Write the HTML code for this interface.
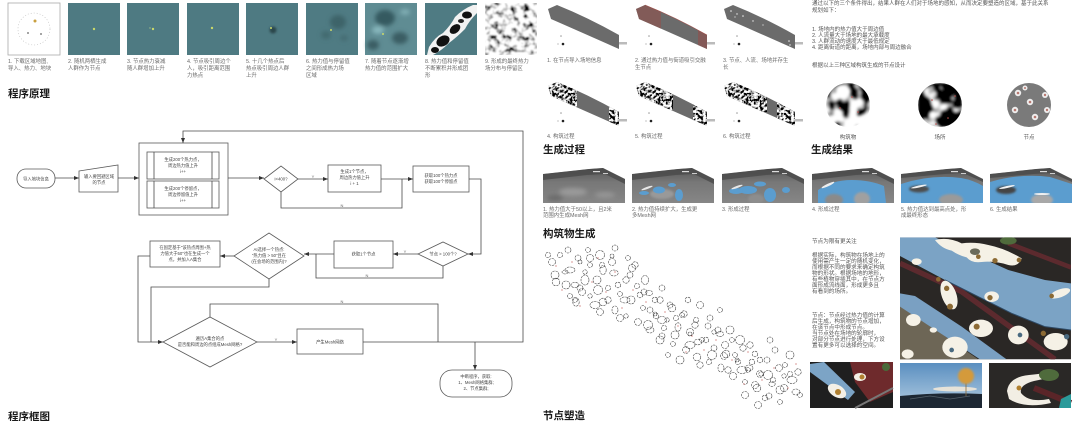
<!DOCTYPE html>
<html><head><meta charset="utf-8">
<style>
html,body{margin:0;padding:0;background:#fff;}
body{width:1080px;height:421px;overflow:hidden;}
svg{display:block;}
svg text{font-family:"Liberation Sans","Noto Sans CJK SC",sans-serif;}
.cap{font-size:5.4px;fill:#6a6a6a;}
.ft{font-size:4.3px;fill:#444;text-anchor:middle;}
.yn{font-size:4px;fill:#666;text-anchor:middle;}
.h{font-size:10.5px;font-weight:700;fill:#1a1a1a;}
.ln{stroke:#4a4a4a;stroke-width:0.8;fill:none;}
.bx{stroke:#5a5a5a;stroke-width:0.8;fill:#fff;}
.rt{font-size:5.5px;fill:#555;}
</style></head><body>
<svg width="1080" height="421" viewBox="0 0 1080 421" xmlns="http://www.w3.org/2000/svg">
<defs>
  <marker id="ar" markerUnits="userSpaceOnUse" markerWidth="5" markerHeight="4" refX="5" refY="2" orient="auto"><path d="M0,0L5,2L0,4z" fill="#333"/></marker>
  <filter id="b1" x="-50%" y="-50%" width="200%" height="200%"><feGaussianBlur stdDeviation="1"/></filter>
  <filter id="b2" x="-50%" y="-50%" width="200%" height="200%"><feGaussianBlur stdDeviation="2"/></filter>
  <filter id="nz9" x="0" y="0" width="1" height="1">
    <feTurbulence type="fractalNoise" baseFrequency="0.17" numOctaves="2" seed="7"/>
    <feColorMatrix type="matrix" values="3.4 0 0 0 -0.9  3.4 0 0 0 -0.9  3.4 0 0 0 -0.9  0 0 0 0 1"/>
    <feGaussianBlur stdDeviation="0.5"/>
  </filter>
  <filter id="nzr" x="0" y="0" width="1" height="1">
    <feTurbulence type="fractalNoise" baseFrequency="0.35" numOctaves="2" seed="11"/>
    <feColorMatrix type="matrix" values="5 0 0 0 -2.1  5 0 0 0 -2.1  5 0 0 0 -2.1  0 0 0 0 1"/>
  </filter>
  <filter id="nzc1" x="0" y="0" width="1" height="1">
    <feTurbulence type="fractalNoise" baseFrequency="0.07" numOctaves="2" seed="3"/>
    <feColorMatrix type="matrix" values="7 0 0 0 -3.0  7 0 0 0 -3.0  7 0 0 0 -3.0  0 0 0 0 1"/>
    <feGaussianBlur stdDeviation="1"/>
  </filter>
  <filter id="nzc2" x="0" y="0" width="1" height="1">
    <feTurbulence type="fractalNoise" baseFrequency="0.07" numOctaves="2" seed="21"/>
    <feColorMatrix type="matrix" values="7 0 0 0 -3.9  7 0 0 0 -3.9  7 0 0 0 -3.9  0 0 0 0 1"/>
    <feGaussianBlur stdDeviation="1"/>
  </filter>
  <clipPath id="tc"><polygon points="0,6 46,1 60,0 82,11 82,35 0,35"/></clipPath>
  <clipPath id="ribc"><path d="M1,4 L10,0 Q40,12 72,30 L72,44 Q36,28 4,14 Z"/></clipPath>
  <clipPath id="c1"><circle cx="848" cy="105" r="22"/></clipPath>
  <clipPath id="c2"><circle cx="940" cy="105" r="22"/></clipPath>
  <clipPath id="c3"><circle cx="1029" cy="105" r="22"/></clipPath>
  <clipPath id="bigc"><rect x="15" y="22" width="513" height="366"/></clipPath>
  <linearGradient id="tg" x1="0" y1="0" x2="0" y2="1"><stop offset="0" stop-color="#555"/><stop offset="0.4" stop-color="#777"/><stop offset="1" stop-color="#868686"/></linearGradient>
  <linearGradient id="sky" x1="0" y1="0" x2="0" y2="1"><stop offset="0" stop-color="#5a8fc0"/><stop offset="1" stop-color="#b3cce2"/></linearGradient>
</defs>

<!-- ============ TOP THUMBNAILS ============ -->
<rect x="8" y="3" width="52" height="52" fill="#fff" stroke="#aaa" stroke-width="0.8"/>
<circle cx="34" cy="29" r="16" fill="none" stroke="#bbb" stroke-width="0.6" stroke-dasharray="1 2"/>
<circle cx="35" cy="21" r="1.5" fill="#c9a040"/><circle cx="28" cy="33" r="1" fill="#888"/><circle cx="41" cy="34" r="1" fill="#888"/>

<rect x="68" y="3" width="52" height="52" fill="#4e7a82"/><circle cx="94" cy="29" r="1.2" fill="#c9d86a"/>
<rect x="127" y="3" width="52" height="52" fill="#4e7a82"/><circle cx="153" cy="29" r="1.2" fill="#c9d86a"/><circle cx="150" cy="28" r="0.7" fill="#9fbf8a"/>
<rect x="187" y="3" width="52" height="52" fill="#4e7a82"/><circle cx="212" cy="28" r="1.2" fill="#c9d86a"/>
<rect x="246" y="3" width="52" height="52" fill="#4e7a82"/><circle cx="273" cy="30" r="3.5" fill="#2b474c" filter="url(#b1)"/><circle cx="271" cy="28" r="1" fill="#c9d86a"/>
<rect x="306" y="3" width="52" height="52" fill="#4f7b83"/>
<g filter="url(#b2)"><ellipse cx="338" cy="22" rx="8" ry="7" fill="#3e6369"/><ellipse cx="326" cy="35" rx="5" ry="4" fill="#426a70"/><ellipse cx="344" cy="38" rx="4" ry="3" fill="#446c72"/></g>
<circle cx="331" cy="30" r="1" fill="#c9d86a"/>
<rect x="365" y="3" width="52" height="52" fill="#5f8c93"/>
<g filter="url(#b2)"><ellipse cx="385" cy="18" rx="10" ry="8" fill="#365a60"/><ellipse cx="400" cy="38" rx="8" ry="6" fill="#3b5d63"/><ellipse cx="373" cy="45" rx="6" ry="5" fill="#3b5d63"/><ellipse cx="378" cy="30" rx="6" ry="4" fill="#86b6bc"/><ellipse cx="405" cy="12" rx="5" ry="3" fill="#80aeb4"/></g>
<circle cx="383" cy="34" r="1" fill="#c9d86a"/>
<rect x="425" y="3" width="52" height="52" fill="#4f7b83"/>
<g transform="translate(425,3)">
  <path d="M4,44 Q10,34 18,30 Q26,22 30,14 Q38,6 48,2 L52,2 L52,10 Q44,18 40,26 Q32,34 24,40 Q16,48 8,52 L2,52 Z" fill="#f2f2f2"/>
  <ellipse cx="18" cy="38" rx="7" ry="5" transform="rotate(-30 18 38)" fill="#111"/>
  <ellipse cx="30" cy="26" rx="6" ry="4" transform="rotate(-40 30 26)" fill="#111"/>
  <ellipse cx="42" cy="12" rx="5" ry="3.5" fill="#111"/>
  <ellipse cx="10" cy="47" rx="4" ry="3" fill="#111"/>
  <ellipse cx="36" cy="18" rx="3" ry="2" fill="#222"/>
</g>
<rect x="485" y="3" width="52" height="52" fill="#888" filter="url(#nz9)"/>

<g class="cap">
<text x="8" y="63">1. 下载区域地图,</text><text x="8" y="70">导入、热力、地块</text>
<text x="68" y="63">2. 随机两栖生成</text><text x="68" y="70">人群作为节点</text>
<text x="127" y="63">3. 节点热力衰减</text><text x="127" y="70">随人群增加上升</text>
<text x="187" y="63">4. 节点吸引周边个</text><text x="187" y="70">人，吸引距离范围</text><text x="187" y="77">力热点</text>
<text x="246" y="63">5. 十几个热点后</text><text x="246" y="70">热点吸引周边人群</text><text x="246" y="77">上升</text>
<text x="306" y="63">6. 热力值与停留值</text><text x="306" y="70">之间形成热力场</text><text x="306" y="77">区域</text>
<text x="365" y="63">7. 随着节点逐渐增</text><text x="365" y="70">热力值的范围扩大</text>
<text x="425" y="63">8. 热力值和停留值</text><text x="425" y="70">不断累积并形成团</text><text x="425" y="77">形</text>
<text x="485" y="63">9. 形成的最终热力</text><text x="485" y="70">场分布与停留区</text>
</g>

<text class="h" x="8" y="97">程序原理</text>
<text class="h" x="8" y="420">程序框图</text>

<!-- ============ FLOWCHART ============ -->
<rect class="bx" x="17" y="169" width="38" height="19" rx="9"/>
<text class="ft" x="36" y="180.5">导入地块信息</text>
<path class="ln" d="M55,178H79" marker-end="url(#ar)"/>
<polygon class="bx" points="79,171 118,165 118,192 79,192"/>
<text class="ft" x="99" y="178">输入要回避区域</text><text class="ft" x="99" y="184">的节点</text>
<path class="ln" d="M118,178H139" marker-end="url(#ar)"/>
<rect class="bx" x="139" y="143" width="89" height="72"/>
<rect class="bx" x="147" y="152" width="72" height="27"/><path class="ln" d="M154,152V179M212,152V179"/>
<text class="ft" x="183" y="161">生成200个热力点，</text><text class="ft" x="183" y="167">周边热力值上升</text><text class="ft" x="183" y="173">i++</text>
<rect class="bx" x="147" y="181" width="72" height="27"/><path class="ln" d="M154,181V208M212,181V208"/>
<text class="ft" x="183" y="190">生成200个停留点，</text><text class="ft" x="183" y="196">周边停留值上升</text><text class="ft" x="183" y="202">i++</text>
<path class="ln" d="M228,178H264" marker-end="url(#ar)"/>
<polygon class="bx" points="264,179 281,166 298,179 281,192"/>
<text class="ft" x="281" y="180.5">i&lt;400?</text>
<path class="ln" d="M298,179H328" marker-end="url(#ar)"/><text class="yn" x="313" y="178">Y</text>
<rect class="bx" x="328" y="165" width="53" height="27"/>
<text class="ft" x="354.5" y="173">生成1个节点，</text><text class="ft" x="354.5" y="179">周边热力值上升</text><text class="ft" x="354.5" y="185">i + 1</text>
<path class="ln" d="M381,179H413" marker-end="url(#ar)"/>
<path class="ln" d="M281,192V208H402V179"/><text class="yn" x="342" y="207">N</text>
<rect class="bx" x="413" y="166" width="56" height="26"/>
<text class="ft" x="441" y="177">获取100个热力点</text><text class="ft" x="441" y="183">获取100个停留点</text>
<path class="ln" d="M469,179H481V254H468" marker-end="url(#ar)"/>
<polygon class="bx" points="418,254 443,242 468,254 443,266"/>
<text class="ft" x="443" y="255.5">节点 &gt; 100个?</text>
<path class="ln" d="M418,254H393" marker-end="url(#ar)"/><text class="yn" x="405" y="253">Y</text>
<rect class="bx" x="334" y="241" width="59" height="27"/>
<text class="ft" x="363.5" y="255.5">获取1个节点</text>
<path class="ln" d="M443,266V278H316V254"/><text class="yn" x="367" y="277">N</text>
<path class="ln" d="M334,254H304" marker-end="url(#ar)"/>
<polygon class="bx" points="234,256 269,233 304,256 269,279"/>
<text class="ft" x="269" y="251">AI选择一个热点:</text><text class="ft" x="269" y="257">"热力值 &gt; 50"且在</text><text class="ft" x="269" y="263">(在会场的范围内)?</text>
<path class="ln" d="M234,256H220" marker-end="url(#ar)"/>
<rect class="bx" x="150" y="241" width="70" height="26"/>
<text class="ft" x="185" y="249">在固定基于"该热点周围+热</text><text class="ft" x="185" y="255">力值大于50"也在生成一个</text><text class="ft" x="185" y="261">点，并加入A集合</text>
<path class="ln" d="M150,256H138V342H163" marker-end="url(#ar)"/>
<path class="ln" d="M269,279V287H151V342"/>
<polygon class="bx" points="163,342 210,317 257,342 210,367"/>
<text class="ft" x="210" y="340">遍历A集合的点</text><text class="ft" x="210" y="346">是否能和周边的点组成Mesh网格?</text>
<path class="ln" d="M257,342H297" marker-end="url(#ar)"/><text class="yn" x="276" y="341">Y</text>
<path class="ln" d="M210,317V304H438V342"/><text class="yn" x="342" y="303">N</text>
<rect class="bx" x="297" y="329" width="66" height="25"/>
<text class="ft" x="330" y="343.5">产生Mesh网络</text>
<path class="ln" d="M363,342H523V131H183V143" marker-end="url(#ar)"/>
<path class="ln" d="M475,342V370" marker-end="url(#ar)"/>
<rect class="bx" x="440" y="370" width="72" height="27" rx="12"/>
<text class="ft" x="476" y="378">中断程序，获取:</text><text class="ft" x="476" y="384">1、Mesh网格集群;</text><text class="ft" x="476" y="390">2、节点集群;</text>

<!-- ============ MIDDLE: RIBBONS ============ -->
<g transform="translate(547,5)">
  <path d="M1,4 L10,0 Q40,12 72,30 L72,44 Q36,28 4,14 Z" fill="#6b6b6b"/>
  <rect x="72" y="37" width="8" height="2.5" fill="#bbb"/>
  <circle cx="14" cy="31" r="0.8" fill="#999"/><circle cx="16" cy="39" r="1.3" fill="#222"/><circle cx="11" cy="39" r="0.6" fill="#999"/>
</g>
<g transform="translate(635,5)">
  <path d="M1,4 L10,0 Q40,12 72,30 L72,44 Q36,28 4,14 Z" fill="#6b6b6b"/>
  <g clip-path="url(#ribc)"><rect x="0" y="0" width="26" height="25" fill="#8a5552" opacity="0.75"/><rect x="63" y="24" width="10" height="21" fill="#8a5552" opacity="0.8"/></g>
  <path d="M10,0 Q40,12 72,30" fill="none" stroke="#a0504a" stroke-width="0.6"/>
  <rect x="72" y="37" width="8" height="2.5" fill="#bbb"/>
  <circle cx="14" cy="31" r="0.8" fill="#999"/><circle cx="16" cy="39" r="1.3" fill="#222"/><circle cx="11" cy="39" r="0.6" fill="#999"/>
</g>
<g transform="translate(723,5)">
  <path d="M1,4 L10,0 Q40,12 72,30 L72,44 Q36,28 4,14 Z" fill="#6b6b6b"/>
  <g fill="#eee"><circle cx="8" cy="6" r="0.8"/><circle cx="14" cy="9" r="0.7"/><circle cx="20" cy="11" r="0.8"/><circle cx="12" cy="12" r="0.6"/><circle cx="30" cy="16" r="0.7"/><circle cx="40" cy="20" r="0.6"/><circle cx="66" cy="36" r="0.8"/><circle cx="67" cy="40" r="0.7"/></g>
  <rect x="72" y="37" width="8" height="2.5" fill="#bbb"/>
  <circle cx="14" cy="31" r="0.8" fill="#999"/><circle cx="16" cy="39" r="1.3" fill="#222"/><circle cx="11" cy="39" r="0.6" fill="#999"/>
</g>
<g transform="translate(547,82)">
  <path d="M1,4 L10,0 Q40,12 72,30 L72,44 Q36,28 4,14 Z" fill="#6b6b6b"/>
  <g clip-path="url(#ribc)"><rect x="0" y="0" width="30" height="25" fill="#888" filter="url(#nzr)"/><rect x="62" y="24" width="11" height="21" fill="#888" filter="url(#nzr)"/></g>
  <rect x="72" y="37" width="8" height="2.5" fill="#bbb"/>
  <circle cx="14" cy="31" r="0.8" fill="#999"/><circle cx="16" cy="39" r="1.3" fill="#222"/><circle cx="11" cy="39" r="0.6" fill="#999"/>
</g>
<g transform="translate(635,82)">
  <path d="M1,4 L10,0 Q40,12 72,30 L72,44 Q36,28 4,14 Z" fill="#6b6b6b"/>
  <g clip-path="url(#ribc)"><rect x="0" y="0" width="38" height="28" fill="#888" filter="url(#nzr)"/><rect x="58" y="22" width="15" height="23" fill="#888" filter="url(#nzr)"/></g>
  <rect x="72" y="37" width="8" height="2.5" fill="#bbb"/>
  <circle cx="14" cy="31" r="0.8" fill="#999"/><circle cx="16" cy="39" r="1.3" fill="#222"/><circle cx="11" cy="39" r="0.6" fill="#999"/>
</g>
<g transform="translate(723,82)">
  <path d="M1,4 L10,0 Q40,12 72,30 L72,44 Q36,28 4,14 Z" fill="#6b6b6b"/>
  <g clip-path="url(#ribc)"><rect x="0" y="0" width="44" height="30" fill="#888" filter="url(#nzr)"/><rect x="54" y="20" width="19" height="25" fill="#888" filter="url(#nzr)"/></g>
  <rect x="72" y="37" width="8" height="2.5" fill="#bbb"/>
  <circle cx="14" cy="31" r="0.8" fill="#999"/><circle cx="16" cy="39" r="1.3" fill="#222"/><circle cx="11" cy="39" r="0.6" fill="#999"/>
</g>
<g class="cap">
<text x="547" y="62">1. 在节点导入场地信息</text>
<text x="635" y="62">2. 通过热力值与街道吸引交融</text><text x="635" y="69">生节点</text>
<text x="723" y="62">3. 节点、人流、场地并存生</text><text x="723" y="69">长</text>
<text x="547" y="138">4. 构筑过程</text>
<text x="635" y="138">5. 构筑过程</text>
<text x="723" y="138">6. 构筑过程</text>
</g>
<text class="h" x="543" y="153">生成过程</text>

<!-- ============ TERRAIN ROW ============ -->
<g transform="translate(543,168)"><g clip-path="url(#tc)">
  <rect width="82" height="35" fill="url(#tg)"/>
  <g filter="url(#b2)"><ellipse cx="30" cy="24" rx="14" ry="4" fill="#9a9a9a"/><ellipse cx="62" cy="27" rx="10" ry="3" fill="#959595"/><ellipse cx="12" cy="30" rx="8" ry="3" fill="#6a6a6a"/></g>
  <polygon points="0,6 46,1 60,0 82,11 82,16 62,6 44,7 0,12" fill="#4a4a4a" opacity="0.8"/>
  <rect x="50" y="3" width="7" height="1.2" fill="#ddd"/><rect x="60" y="5" width="5" height="1" fill="#ccc"/>
</g></g>
<g transform="translate(632,168)"><g clip-path="url(#tc)">
  <rect width="82" height="35" fill="url(#tg)"/>
  <g filter="url(#b1)"><ellipse cx="30" cy="26" rx="12" ry="5" fill="#999"/></g>
  <ellipse cx="27" cy="22" rx="6" ry="3.5" fill="#5b9dcf"/><ellipse cx="47" cy="27" rx="4" ry="6" fill="#5b9dcf"/><ellipse cx="40" cy="17" rx="4" ry="2" fill="#5b9dcf"/><ellipse cx="12" cy="25" rx="5" ry="2" fill="#5b9dcf"/>
  <ellipse cx="15" cy="20" rx="6" ry="1.1" transform="rotate(-20 15 20)" fill="#e8e8e8"/>
  <polygon points="0,6 46,1 60,0 82,11 82,16 62,6 44,7 0,12" fill="#4a4a4a" opacity="0.8"/>
  <rect x="50" y="3" width="7" height="1.2" fill="#ddd"/><rect x="60" y="5" width="5" height="1" fill="#ccc"/>
</g></g>
<g transform="translate(722,168)"><g clip-path="url(#tc)">
  <rect width="82" height="35" fill="url(#tg)"/>
  <ellipse cx="26" cy="22" rx="9" ry="4" fill="#5b9dcf"/><ellipse cx="48" cy="27" rx="6" ry="7" fill="#5b9dcf"/><ellipse cx="38" cy="16" rx="6" ry="2.5" fill="#5b9dcf"/><ellipse cx="14" cy="23" rx="7" ry="3" fill="#5b9dcf"/><ellipse cx="64" cy="22" rx="4" ry="3" fill="#5b9dcf"/>
  <g filter="url(#b1)"><ellipse cx="34" cy="31" rx="8" ry="5" fill="#8d8d8d"/></g>
  <ellipse cx="15" cy="19" rx="6" ry="1.1" transform="rotate(-20 15 19)" fill="#e8e8e8"/>
  <polygon points="0,6 46,1 60,0 82,11 82,16 62,6 44,7 0,12" fill="#4a4a4a" opacity="0.8"/>
  <rect x="50" y="3" width="7" height="1.2" fill="#ddd"/><rect x="60" y="5" width="5" height="1" fill="#ccc"/>
</g></g>
<g transform="translate(812,168)"><g clip-path="url(#tc)">
  <rect width="82" height="35" fill="url(#tg)"/>
  <path d="M6,22 Q20,12 40,12 Q58,12 72,18 L74,35 L6,35 Z" fill="#5b9dcf"/>
  <g filter="url(#b1)"><ellipse cx="22" cy="32" rx="9" ry="6" fill="#8a8a8a"/><ellipse cx="50" cy="31" rx="8" ry="7" fill="#a0a0a0"/></g>
  <ellipse cx="16" cy="17" rx="7" ry="1.3" transform="rotate(-25 16 17)" fill="#eee"/>
  <polygon points="0,6 46,1 60,0 82,11 82,16 62,6 44,7 0,12" fill="#4a4a4a" opacity="0.8"/>
  <rect x="50" y="3" width="7" height="1.2" fill="#ddd"/><rect x="60" y="5" width="5" height="1" fill="#ccc"/>
</g></g>
<g transform="translate(901,168)"><g clip-path="url(#tc)">
  <rect width="82" height="35" fill="url(#tg)"/>
  <path d="M0,16 Q30,6 60,10 Q72,12 82,18 L82,35 L0,35 Z" fill="#5b9dcf"/>
  <g filter="url(#b1)"><ellipse cx="18" cy="21" rx="10" ry="3.5" fill="#4d4d4d"/><ellipse cx="50" cy="32" rx="12" ry="6" fill="#9a9a9a"/></g>
  <ellipse cx="18" cy="18.5" rx="8" ry="1" transform="rotate(-12 18 18.5)" fill="#f0f0f0"/>
  <polygon points="0,6 46,1 60,0 82,11 82,14 62,5 44,6 0,10" fill="#4a4a4a" opacity="0.8"/>
  <rect x="50" y="3" width="7" height="1.2" fill="#ddd"/><rect x="60" y="5" width="5" height="1" fill="#ccc"/>
</g></g>
<g transform="translate(990,168)"><g clip-path="url(#tc)">
  <rect width="82" height="35" fill="url(#tg)"/>
  <path d="M0,14 Q30,5 60,9 L82,16 L82,35 L0,35 Z" fill="#5b9dcf"/>
  <g filter="url(#b1)"><ellipse cx="16" cy="22" rx="10" ry="4" fill="#444"/><ellipse cx="52" cy="32" rx="11" ry="6" fill="#a8a8a8"/></g>
  <ellipse cx="17" cy="19" rx="8" ry="1" transform="rotate(-12 17 19)" fill="#f4f4f4"/>
  <ellipse cx="52" cy="26" rx="8" ry="1" fill="#f0f0f0"/>
  <polygon points="0,6 46,1 60,0 82,11 82,14 62,5 44,6 0,10" fill="#4a4a4a" opacity="0.8"/>
  <rect x="50" y="3" width="7" height="1.2" fill="#ddd"/><rect x="60" y="5" width="5" height="1" fill="#ccc"/>
</g></g>
<g class="cap">
<text x="543" y="211">1. 热力值大于50以上，且2米</text><text x="543" y="217">范围内生成Mesh网</text>
<text x="632" y="211">2. 热力值持续扩大，生成更</text><text x="632" y="217">多Mesh网</text>
<text x="722" y="211">3. 形成过程</text>
<text x="812" y="211">4. 形成过程</text>
<text x="901" y="211">5. 热力值达到最高点处，形</text><text x="901" y="217">成最终形态</text>
<text x="990" y="211">6. 生成结果</text>
</g>
<text class="h" x="543" y="237">构筑物生成</text>

<!-- ============ POINT CLOUD ============ -->
<g stroke="#3a3a3a" stroke-width="0.55" fill="none" stroke-dasharray="2.4 0.8">
<circle cx="552" cy="262" r="3.5"/><circle cx="560" cy="255" r="2.6"/><ellipse cx="570" cy="270" rx="5" ry="3"/><circle cx="578" cy="258" r="3"/>
<ellipse cx="585" cy="280" rx="4" ry="5"/><circle cx="590" cy="265" r="2.4"/><circle cx="598" cy="290" r="4.5"/><ellipse cx="603" cy="270" rx="3.2" ry="4.5"/>
<circle cx="612" cy="262" r="3.5"/><circle cx="618" cy="285" r="2.8"/><ellipse cx="625" cy="300" rx="5" ry="3"/><circle cx="630" cy="275" r="3"/>
<circle cx="566" cy="285" r="4"/><circle cx="575" cy="300" r="2.4"/><ellipse cx="595" cy="305" rx="5" ry="3.5"/><circle cx="608" cy="300" r="3.2"/>
<circle cx="620" cy="318" r="3.5"/><circle cx="640" cy="295" r="2.8"/><ellipse cx="645" cy="280" rx="3.5" ry="4.5"/><circle cx="650" cy="310" r="3"/>
<circle cx="555" cy="275" r="4"/><circle cx="588" cy="250" r="2.4"/><circle cx="600" cy="255" r="4.5"/><circle cx="635" cy="265" r="3.2"/><circle cx="582" cy="292" r="3.5"/>
<circle cx="655" cy="300" r="2.8"/><ellipse cx="662" cy="320" rx="4.5" ry="3.5"/><circle cx="670" cy="305" r="3"/><circle cx="675" cy="335" r="4"/>
<circle cx="682" cy="315" r="2.4"/><ellipse cx="690" cy="345" rx="5" ry="3.5"/><circle cx="695" cy="325" r="3.2"/><circle cx="700" cy="305" r="3.5"/>
<circle cx="706" cy="340" r="2.8"/><circle cx="712" cy="355" r="4.5"/><circle cx="718" cy="330" r="3"/><circle cx="660" cy="340" r="4"/>
<circle cx="668" cy="355" r="2.4"/><circle cx="680" cy="360" r="4"/><circle cx="700" cy="365" r="3.2"/><circle cx="725" cy="345" r="3.5"/>
<circle cx="688" cy="300" r="2.8"/><circle cx="648" cy="325" r="4.5"/><circle cx="710" cy="318" r="3"/><circle cx="730" cy="330" r="4"/>
<circle cx="735" cy="355" r="2.4"/><ellipse cx="742" cy="370" rx="5" ry="3.6"/><circle cx="750" cy="345" r="3.2"/><circle cx="755" cy="385" r="3.5"/>
<circle cx="760" cy="360" r="2.8"/><circle cx="768" cy="375" r="4.5"/><circle cx="775" cy="350" r="3"/><circle cx="780" cy="390" r="4"/>
<circle cx="785" cy="365" r="2.4"/><ellipse cx="792" cy="380" rx="5" ry="3.5"/><circle cx="798" cy="372" r="3.2"/><circle cx="745" cy="395" r="3.5"/>
<circle cx="765" cy="398" r="2.8"/><circle cx="740" cy="340" r="4.5"/><circle cx="770" cy="340" r="3"/><circle cx="790" cy="355" r="4"/>
<circle cx="800" cy="395" r="2.4"/><circle cx="758" cy="405" r="3.5"/><circle cx="728" cy="370" r="3.2"/><circle cx="752" cy="362" r="2.8"/>
<circle cx="615" cy="248" r="3"/><circle cx="628" cy="258" r="2.4"/><circle cx="662" cy="288" r="3"/><circle cx="720" cy="310" r="2.4"/>
<!-- extra density -->
<circle cx="548" cy="255" r="2.6"/><ellipse cx="565" cy="272" rx="3" ry="2"/><circle cx="556" cy="282" r="3.8"/>
<circle cx="568" cy="250" r="3"/><circle cx="580" cy="262" r="2"/><ellipse cx="575" cy="285" rx="4" ry="2.6"/><circle cx="570" cy="296" r="2.5"/>
<circle cx="590" cy="258" r="3.6"/><circle cx="585" cy="272" r="2.2"/><circle cx="580" cy="288" r="3"/><ellipse cx="576" cy="302" rx="3.2" ry="4.2"/>
<circle cx="602" cy="265" r="2.6"/><circle cx="597" cy="280" r="4"/><circle cx="590" cy="296" r="2.2"/><circle cx="600" cy="312" r="3.4"/>
<ellipse cx="614" cy="273" rx="4.2" ry="3"/><circle cx="608" cy="288" r="2.6"/><circle cx="603" cy="302" r="3.8"/><circle cx="612" cy="256" r="2"/>
<circle cx="626" cy="280" r="3.2"/><circle cx="620" cy="294" r="2.4"/><ellipse cx="615" cy="310" rx="3" ry="4"/><circle cx="632" cy="268" r="3.6"/>
<circle cx="637" cy="286" r="2.6"/><circle cx="631" cy="300" r="4"/><circle cx="626" cy="316" r="2.2"/><circle cx="644" cy="292" r="3"/>
<ellipse cx="649" cy="293" rx="3.6" ry="2.6"/><circle cx="643" cy="308" r="2.4"/><circle cx="638" cy="322" r="3.4"/><circle cx="656" cy="316" r="2.8"/>
<circle cx="660" cy="300" r="3.2"/><circle cx="655" cy="314" r="2"/><ellipse cx="650" cy="330" rx="4" ry="3"/><circle cx="664" cy="328" r="2.6"/>
<circle cx="672" cy="308" r="3.8"/><circle cx="667" cy="320" r="2.2"/><circle cx="662" cy="336" r="3"/><circle cx="676" cy="318" r="2.6"/>
<circle cx="684" cy="314" r="3.2"/><ellipse cx="678" cy="327" rx="3" ry="4.2"/><circle cx="673" cy="344" r="2.4"/><circle cx="690" cy="332" r="3.6"/>
<circle cx="696" cy="320" r="2.6"/><circle cx="690" cy="334" r="2"/><circle cx="686" cy="350" r="3.4"/><ellipse cx="698" cy="342" rx="4" ry="2.8"/>
<circle cx="708" cy="326" r="3"/><circle cx="702" cy="340" r="2.4"/><circle cx="697" cy="357" r="3.8"/><circle cx="714" cy="332" r="2.2"/>
<ellipse cx="720" cy="334" rx="3.6" ry="2.6"/><circle cx="714" cy="348" r="3"/><circle cx="709" cy="362" r="2.6"/><circle cx="724" cy="356" r="3.4"/>
<circle cx="732" cy="340" r="2.4"/><circle cx="726" cy="354" r="3.8"/><ellipse cx="721" cy="368" rx="3" ry="4"/><circle cx="738" cy="362" r="2.6"/>
<circle cx="743" cy="348" r="3.2"/><circle cx="737" cy="360" r="2"/><circle cx="733" cy="376" r="3.6"/><circle cx="748" cy="370" r="2.4"/>
<circle cx="755" cy="354" r="2.8"/><ellipse cx="749" cy="368" rx="4" ry="3"/><circle cx="745" cy="382" r="2.4"/><circle cx="760" cy="374" r="3.4"/>
<circle cx="767" cy="360" r="3"/><circle cx="761" cy="374" r="2.2"/><circle cx="757" cy="388" r="3.8"/><ellipse cx="772" cy="384" rx="3.2" ry="2.4"/>
<circle cx="779" cy="368" r="3.4"/><circle cx="773" cy="380" r="2.6"/><circle cx="769" cy="396" r="3"/><circle cx="784" cy="376" r="2.2"/>
<circle cx="790" cy="374" r="2.6"/><circle cx="784" cy="388" r="3.6"/><circle cx="780" cy="402" r="2.4"/><ellipse cx="796" cy="392" rx="4" ry="3"/>
</g>
<g fill="#c0504d">
<circle cx="556" cy="266" r="0.6"/><circle cx="572" cy="262" r="0.6"/><circle cx="592" cy="282" r="0.6"/><circle cx="606" cy="292" r="0.6"/><circle cx="615" cy="272" r="0.6"/>
<circle cx="633" cy="290" r="0.6"/><circle cx="646" cy="302" r="0.6"/><circle cx="665" cy="312" r="0.6"/><circle cx="678" cy="326" r="0.6"/><circle cx="692" cy="336" r="0.6"/>
<circle cx="704" cy="350" r="0.6"/><circle cx="716" cy="340" r="0.6"/><circle cx="732" cy="360" r="0.6"/><circle cx="748" cy="352" r="0.6"/><circle cx="762" cy="380" r="0.6"/>
<circle cx="774" cy="368" r="0.6"/><circle cx="788" cy="388" r="0.6"/><circle cx="796" cy="364" r="0.6"/><circle cx="580" cy="306" r="0.6"/><circle cx="622" cy="308" r="0.6"/>
<circle cx="686" cy="352" r="0.6"/><circle cx="744" cy="384" r="0.6"/><circle cx="562" cy="290" r="0.6"/><circle cx="598" cy="258" r="0.6"/>
</g>
<text class="h" x="543" y="419">节点塑造</text>

<!-- ============ RIGHT COLUMN TEXT ============ -->
<g class="rt">
<text x="812" y="5">通过以下的三个条件得出，结果人群在人们对于场地的感知，从而决定要塑造的区域，基于此关系</text>
<text x="812" y="12">规划如下：</text>
<text x="812" y="31">1. 场地内的热力值大于周边值</text>
<text x="812" y="37">2. 人流量大于场地的最大承载度</text>
<text x="812" y="43">3. 人群流动的速度大于最低规定</text>
<text x="812" y="49">4. 距离街道的距离，场地内部与周边融合</text>
<text x="812" y="67">根据以上三种区域构筑生成的节点设计</text>
</g>

<!-- circles -->
<g clip-path="url(#c1)"><rect x="826" y="83" width="44" height="44" fill="#888" filter="url(#nzc1)"/>
<g fill="#c0504d"><circle cx="840" cy="108" r="0.8"/><circle cx="852" cy="97" r="0.8"/><circle cx="858" cy="112" r="0.8"/></g></g>
<g clip-path="url(#c2)"><rect x="918" y="83" width="44" height="44" fill="#888" filter="url(#nzc2)"/>
<g fill="#c0504d"><circle cx="932" cy="100" r="0.8"/><circle cx="948" cy="118" r="0.8"/><circle cx="955" cy="96" r="0.8"/><circle cx="936" cy="124" r="0.8"/></g></g>
<g clip-path="url(#c3)"><rect x="1007" y="83" width="44" height="44" fill="#7a7a7a"/>
<g fill="#eee"><circle cx="1018" cy="93" r="3.2"/><circle cx="1030" cy="102" r="3.2"/><circle cx="1045" cy="95" r="3"/><circle cx="1015" cy="110" r="3.2"/><circle cx="1035" cy="117" r="3.2"/><circle cx="1047" cy="110" r="3"/><circle cx="1025" cy="88" r="2.5"/></g>
<g fill="#b87870"><circle cx="1018" cy="93" r="1.3"/><circle cx="1030" cy="102" r="1.3"/><circle cx="1045" cy="95" r="1.2"/><circle cx="1015" cy="110" r="1.3"/><circle cx="1035" cy="117" r="1.3"/><circle cx="1047" cy="110" r="1.2"/><circle cx="1025" cy="88" r="1"/></g></g>
<g class="rt" text-anchor="middle"><text x="848" y="139">构筑物</text><text x="940" y="139">场所</text><text x="1029" y="139">节点</text></g>
<text class="h" x="811" y="153">生成结果</text>

<!-- right text block -->
<g class="rt" style="font-size:5.6px">
<text x="812" y="243">节点为限有更关注</text>
<text x="812" y="257">根据实际，构筑物在场地上的</text>
<text x="812" y="263">使用需产生一定的随机变化，</text>
<text x="812" y="269">而根据不同的要求来确定构筑</text>
<text x="812" y="275">物的形状。根据场地的地形，</text>
<text x="812" y="281">有些植物穿插其中，在节点方</text>
<text x="812" y="287">面形成流线面，形成更多且</text>
<text x="812" y="293">有看到的场所。</text>
<text x="812" y="317">节点：节点经过热力值的计算</text>
<text x="812" y="323">后生成，构筑物的节点增加，</text>
<text x="812" y="329">在该节点中形成节点。</text>
<text x="812" y="335">当节点处在场地的轮廓时，</text>
<text x="812" y="341">对部分节点进行处理，下方设</text>
<text x="812" y="347">置有更多可以选择的空间。</text>
</g>

<!-- big image -->
<g transform="translate(895,230) scale(0.3333)"><g clip-path="url(#bigc)">
  <rect x="15" y="22" width="513" height="366" fill="#2a2725"/>
  <polygon points="15,225 250,388 15,388" fill="#6d6656"/>
  <polygon points="15,190 60,198 200,290 335,388 255,388 15,230" fill="#7aa0c2"/>
  <path d="M15,100 L200,185 L480,388" stroke="#5c2a2e" stroke-width="16" fill="none"/>
  <polygon points="15,22 120,22 240,75 340,120 450,150 528,160 528,300 450,290 350,250 250,200 150,150 15,78" fill="#7ba3c5"/>
  <path d="M150,150 L250,200 L350,250 L450,290 L528,300" stroke="#2e4a66" stroke-width="3" fill="none"/>
  <path d="M340,40 L528,112" stroke="#5c2a2e" stroke-width="14" fill="none"/>
  <ellipse cx="340" cy="32" rx="25" ry="12" fill="#4f6b3c"/>
  <g fill="#f5f1e6">
    <path d="M120,30 Q160,20 200,40 Q240,35 280,45 Q330,55 380,85 Q370,112 340,105 Q300,92 260,96 Q230,100 215,82 Q190,76 170,62 Q140,56 120,30 Z"/>
    <ellipse cx="65" cy="95" rx="15" ry="10"/>
    <ellipse cx="162" cy="195" rx="22" ry="45" transform="rotate(-20 162 195)"/>
    <ellipse cx="290" cy="200" rx="22" ry="16"/>
    <ellipse cx="55" cy="270" rx="22" ry="18"/>
    <ellipse cx="115" cy="300" rx="11" ry="8"/>
    <ellipse cx="258" cy="295" rx="36" ry="26"/>
    <ellipse cx="370" cy="315" rx="31" ry="28"/>
    <ellipse cx="180" cy="352" rx="38" ry="32"/>
    <ellipse cx="495" cy="190" rx="32" ry="12" transform="rotate(-20 495 190)"/>
    <ellipse cx="482" cy="335" rx="36" ry="26"/>
    <ellipse cx="38" cy="372" rx="18" ry="14"/>
  </g>
  <ellipse cx="240" cy="65" rx="15" ry="10" fill="#6a6a5a"/>
  <g fill="#8c6a34">
    <circle cx="300" cy="92" r="8"/><circle cx="250" cy="80" r="7"/><circle cx="372" cy="90" r="7"/>
    <circle cx="155" cy="175" r="8"/><circle cx="165" cy="230" r="9"/><circle cx="285" cy="203" r="8"/>
    <circle cx="245" cy="290" r="9"/><circle cx="470" cy="198" r="7"/><circle cx="445" cy="310" r="8"/><circle cx="130" cy="148" r="7"/>
  </g>
  <g fill="#4a6a80"><circle cx="375" cy="315" r="7"/><circle cx="170" cy="360" r="7"/><circle cx="515" cy="320" r="8"/></g>
</g></g>

<!-- bottom images -->
<g transform="translate(810,362)">
  <rect width="83" height="46" fill="#1f1f1f"/>
  <polygon points="40,0 83,0 83,30 60,40 45,20" fill="#6e2a2c"/>
  <polygon points="0,2 14,0 45,30 38,38 0,10" fill="#7ca4c6"/>
  <ellipse cx="27" cy="29" rx="10" ry="6" transform="rotate(30 27 29)" fill="#f4f0e6"/>
  <ellipse cx="50" cy="15" rx="6" ry="4" fill="#f4f0e6"/>
  <circle cx="28" cy="30" r="3" fill="#b08030"/><circle cx="52" cy="15" r="2.5" fill="#b08030"/>
  <line x1="45" y1="46" x2="83" y2="26" stroke="#777" stroke-width="2"/>
  <circle cx="76" cy="5" r="4" fill="#4a6a3a"/>
</g>
<g transform="translate(900,363)">
  <rect width="82" height="45" fill="url(#sky)"/>
  <path d="M0,33 Q40,29 82,31 L82,45 L0,45 Z" fill="#1d2733"/>
  <path d="M10,36 L30,33 L50,36 L70,33" stroke="#55606a" stroke-width="0.8" fill="none"/>
  <ellipse cx="55" cy="26" rx="22" ry="2.5" fill="#e6e2d8"/>
  <line x1="66" y1="20" x2="66" y2="33" stroke="#8a6a3a" stroke-width="0.8"/>
  <circle cx="66" cy="13" r="8" fill="#d49a3a" filter="url(#b1)"/>
</g>
<g transform="translate(989,363)">
  <rect width="82" height="45" fill="#2a2826"/>
  <path d="M45,25 L82,40" stroke="#5a2528" stroke-width="6"/>
  <path d="M18,28 Q20,14 40,12 Q60,10 66,8 L70,12 Q55,16 45,18 Q30,22 32,30 Q40,40 60,36 L62,40 Q35,46 20,36 Z" fill="#f2eee4"/>
  <ellipse cx="60" cy="12" rx="10" ry="6" fill="#4f6b3c"/>
  <polygon points="72,36 82,31 82,45 70,45" fill="#2a9a9a"/>
  <circle cx="30" cy="25" r="2.5" fill="#b08030"/>
</g>
</svg>
</body></html>
